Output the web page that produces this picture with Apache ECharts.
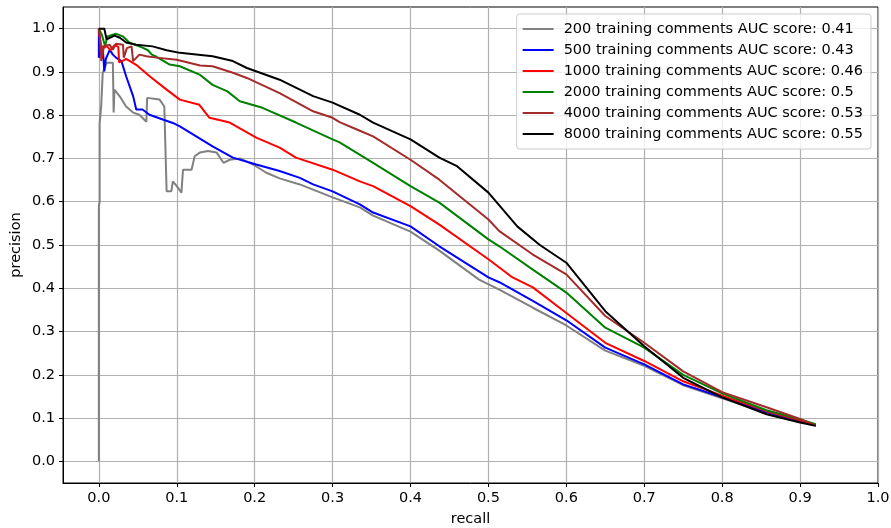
<!DOCTYPE html>
<html>
<head>
<meta charset="utf-8">
<title>Precision-recall</title>
<script src="https://cdn.jsdelivr.net/npm/echarts@6/dist/echarts.min.js"></script>
<style>
    html, body { margin: 0; padding: 0; background: #fff; }
    #chart { width: 891px; height: 528px; }
</style>
</head>
<body>
<div id="chart"></div>
<script type="text/javascript">
// precision / recall points, [recall, precision]
var pr200 = [[0,0],[0,0.59],[0.001,0.6],[0.001,0.78],[0.003,0.82],[0.005,0.898],[0.01,0.921],[0.018,0.921],[0.019,0.806],[0.02,0.859],[0.027,0.843],[0.035,0.82],[0.044,0.806],[0.052,0.801],[0.061,0.785],[0.062,0.84],[0.078,0.836],[0.084,0.82],[0.086,0.82],[0.087,0.624],[0.093,0.624],[0.095,0.647],[0.1,0.636],[0.106,0.621],[0.108,0.674],[0.119,0.674],[0.123,0.705],[0.13,0.714],[0.14,0.717],[0.151,0.714],[0.16,0.69],[0.168,0.697],[0.181,0.7],[0.198,0.686],[0.215,0.667],[0.232,0.654],[0.258,0.64],[0.275,0.628],[0.3,0.61],[0.335,0.587],[0.352,0.568],[0.4,0.531],[0.437,0.487],[0.488,0.42],[0.514,0.397],[0.557,0.355],[0.6,0.314],[0.65,0.256],[0.7,0.221],[0.75,0.176],[0.8,0.146],[0.857,0.112],[0.9,0.092],[0.92,0.083]];
var pr500 = [[0,1.0],[0,0.933],[0.005,0.959],[0.007,0.901],[0.009,0.93],[0.014,0.951],[0.018,0.94],[0.022,0.933],[0.029,0.925],[0.035,0.89],[0.044,0.844],[0.048,0.813],[0.056,0.813],[0.065,0.801],[0.082,0.79],[0.095,0.782],[0.104,0.774],[0.125,0.751],[0.146,0.728],[0.172,0.702],[0.202,0.686],[0.232,0.671],[0.258,0.655],[0.275,0.64],[0.3,0.624],[0.335,0.594],[0.352,0.575],[0.4,0.543],[0.437,0.497],[0.5,0.425],[0.514,0.414],[0.557,0.371],[0.6,0.326],[0.65,0.263],[0.7,0.224],[0.75,0.178],[0.8,0.148],[0.857,0.114],[0.9,0.094],[0.92,0.083]];
var pr1000 = [[0,1.0],[0.002,0.998],[0.004,0.93],[0.006,0.955],[0.01,0.96],[0.015,0.95],[0.02,0.962],[0.025,0.958],[0.026,0.922],[0.03,0.925],[0.035,0.93],[0.04,0.925],[0.049,0.915],[0.066,0.889],[0.087,0.859],[0.104,0.836],[0.129,0.824],[0.142,0.794],[0.168,0.783],[0.202,0.748],[0.232,0.725],[0.253,0.702],[0.3,0.674],[0.335,0.647],[0.352,0.636],[0.4,0.59],[0.437,0.547],[0.5,0.467],[0.531,0.425],[0.557,0.402],[0.6,0.343],[0.65,0.274],[0.7,0.232],[0.75,0.185],[0.8,0.152],[0.857,0.116],[0.9,0.095],[0.92,0.084]];
var pr2000 = [[0,1.0],[0.004,0.985],[0.008,0.96],[0.011,0.982],[0.022,0.988],[0.031,0.982],[0.039,0.968],[0.056,0.956],[0.063,0.95],[0.068,0.94],[0.074,0.935],[0.091,0.917],[0.104,0.913],[0.13,0.893],[0.146,0.87],[0.165,0.855],[0.181,0.832],[0.21,0.817],[0.253,0.783],[0.3,0.744],[0.309,0.737],[0.352,0.69],[0.4,0.636],[0.437,0.598],[0.5,0.513],[0.514,0.497],[0.557,0.443],[0.6,0.39],[0.65,0.309],[0.7,0.263],[0.75,0.2],[0.8,0.157],[0.857,0.118],[0.9,0.097],[0.92,0.086]];
var pr4000 = [[0,1.0],[0.002,1.0],[0.003,0.959],[0.003,0.925],[0.005,0.959],[0.014,0.963],[0.018,0.951],[0.022,0.965],[0.031,0.963],[0.032,0.933],[0.036,0.955],[0.042,0.959],[0.044,0.925],[0.052,0.94],[0.061,0.936],[0.074,0.933],[0.1,0.928],[0.13,0.915],[0.146,0.913],[0.172,0.898],[0.19,0.886],[0.232,0.851],[0.275,0.809],[0.3,0.794],[0.309,0.784],[0.335,0.764],[0.352,0.751],[0.4,0.697],[0.437,0.651],[0.5,0.559],[0.514,0.532],[0.557,0.478],[0.6,0.432],[0.65,0.336],[0.7,0.274],[0.75,0.208],[0.8,0.16],[0.857,0.125],[0.9,0.098],[0.92,0.083]];
var pr8000 = [[0,1.0],[0.007,1.0],[0.01,0.975],[0.02,0.984],[0.027,0.979],[0.035,0.968],[0.048,0.963],[0.069,0.959],[0.087,0.95],[0.104,0.944],[0.146,0.936],[0.172,0.925],[0.19,0.909],[0.232,0.882],[0.275,0.844],[0.3,0.829],[0.335,0.801],[0.352,0.783],[0.4,0.744],[0.437,0.702],[0.459,0.683],[0.5,0.621],[0.537,0.543],[0.566,0.5],[0.6,0.459],[0.65,0.347],[0.7,0.266],[0.75,0.193],[0.8,0.148],[0.857,0.109],[0.9,0.09],[0.92,0.082]];

var seriesNames = [
    '200 training comments AUC score: 0.41',
    '500 training comments AUC score: 0.43',
    '1000 training comments AUC score: 0.46',
    '2000 training comments AUC score: 0.5',
    '4000 training comments AUC score: 0.53',
    '8000 training comments AUC score: 0.55'
];
var seriesData = [pr200, pr500, pr1000, pr2000, pr4000, pr8000];
var seriesColors = ['#808080', '#0000ff', '#ff0000', '#008000', '#a52a2a', '#000000'];
var tickValues = [0, 0.1, 0.2, 0.3, 0.4, 0.5, 0.6, 0.7, 0.8, 0.9, 1.0];

var font = 'DejaVu Sans';
var fs = 14.5;
var myChart = echarts.init(document.getElementById('chart'));

var series = seriesData.map(function (d, i) {
    return {
        name: seriesNames[i],
        type: 'line',
        data: d,
        symbol: 'none',
        animation: false,
        lineStyle: {color: seriesColors[i], width: 2},
        itemStyle: {color: seriesColors[i]}
    };
});

function axisOpts(min, max, name, nameGap) {
    return {
        type: 'value',
        min: min,
        max: max,
        name: name,
        nameLocation: 'middle',
        nameGap: nameGap,
        nameMoveOverlap: false,
        nameTextStyle: {fontFamily: font, fontSize: fs, color: '#000'},
        axisLine: {show: true, onZero: false, lineStyle: {color: '#000', width: 1}},
        axisTick: {show: true, length: 4, customValues: tickValues, lineStyle: {color: '#000'}},
        axisLabel: {
            customValues: tickValues,
            margin: 8,
            fontFamily: font, fontSize: fs, color: '#000',
            formatter: function (v) { return v.toFixed(1); }
        },
        splitLine: {show: true, lineStyle: {color: '#b0b0b0', width: 1.2}}
    };
}

option = {
    backgroundColor: '#fff',
    animation: false,
    grid: {
        left: 63, right: 13, top: 7, bottom: 45,
        outerBoundsMode: 'none', containLabel: false,
        show: true, borderColor: '#000', borderWidth: 1
    },
    xAxis: axisOpts(-0.046, 1.0, 'recall', 29),
    yAxis: axisOpts(-0.05, 1.05, 'precision', 39),
    legend: {
        orient: 'vertical',
        right: 20,
        top: 14,
        data: seriesNames,
        icon: 'rect',
        itemWidth: 31,
        itemHeight: 2,
        itemGap: 5,
        padding: [7, 8, 7, 6],
        backgroundColor: 'rgba(255,255,255,0.8)',
        borderColor: '#cccccc',
        borderWidth: 1,
        borderRadius: 3,
        textStyle: {fontFamily: font, fontSize: fs, color: '#000', lineHeight: 16, padding: [0, 0, 0, 5]}
    },
    series: series
};

myChart.setOption(option);
</script>
</body>
</html>
